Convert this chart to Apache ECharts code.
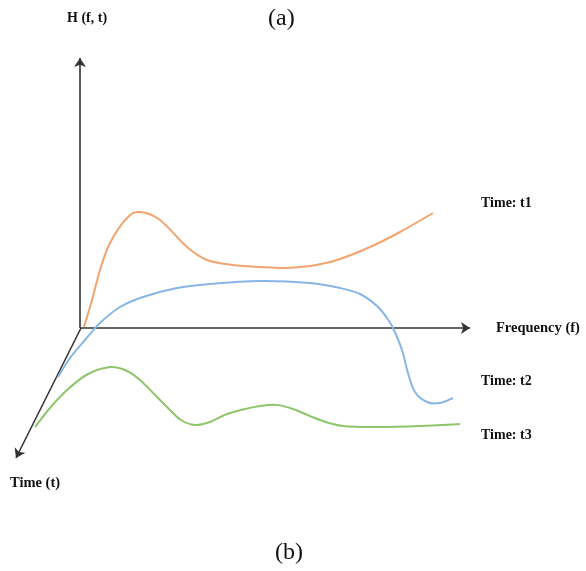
<!DOCTYPE html>
<html>
<head>
<meta charset="utf-8">
<script src="https://cdn.jsdelivr.net/npm/echarts@6/dist/echarts.min.js"></script>
<style>
  html, body { margin: 0; padding: 0; background: #fff; }
  #chart { width: 586px; height: 571px; }
</style>
</head>
<body>
<div id="chart"></div>
<script>
// Curves as [f, H] points (picture units, H grows downward)
const curveT1 = [[84,327],[92,300],[100,270],[110,243],[127,218],[140,212],[160,220],[187,247],[207,260],[233,265],[260,267],[285,268],[310,266],[337,260],[370,247],[400,232],[433,213]];
const curveT2 = [[58,377],[70,358],[85,340],[100,323],[120,307],[143,297],[177,288],[210,284],[260,281],[310,283],[340,288],[360,294],[377,306],[387,318],[393,328],[402,350],[408,373],[415,392],[427,402],[440,403],[453,398]];
const curveT3 = [[35,427],[50,408],[67,390],[88,374],[110,367],[125,370],[140,380],[167,407],[181,420],[195,425],[210,422],[230,413],[268,405],[290,408],[320,420],[343,426],[380,427],[420,426],[460,424]];

// Axis arrows: H, Frequency, Time
const axisLines = [
    [[80,328],[80,58]],
    [[80,328],[470,328]],
    [[81,328],[16,458]]
];

const labels = [
    { text: 'H (f, t)', x: 67, y: 18, size: 14, bold: true },
    { text: '(a)', x: 268, y: 19, size: 24, bold: false },
    { text: 'Time: t1', x: 481, y: 203, size: 14, bold: true },
    { text: 'Frequency (f)', x: 496, y: 328, size: 14.5, bold: true },
    { text: 'Time: t2', x: 481, y: 381, size: 14, bold: true },
    { text: 'Time: t3', x: 481, y: 435, size: 14, bold: true },
    { text: 'Time (t)', x: 10, y: 483, size: 14.5, bold: true },
    { text: '(b)', x: 275, y: 553, size: 24, bold: false }
];

const chart = echarts.init(document.getElementById('chart'));

// smooth curve through the points (Catmull-Rom as cubic beziers)
function curve(data, color) {
    return {
        type: 'custom',
        data: data,
        silent: true,
        clip: false,
        renderItem: function (params, api) {
            if (params.dataIndex !== 0) return null;
            let p = data.map(d => api.coord(d));
            let d = 'M' + p[0][0] + ' ' + p[0][1];
            for (let i = 0; i < p.length - 1; i++) {
                let p0 = p[i - 1] || p[i], p1 = p[i], p2 = p[i + 1], p3 = p[i + 2] || p[i + 1];
                let c1 = [p1[0] + (p2[0] - p0[0]) / 6, p1[1] + (p2[1] - p0[1]) / 6];
                let c2 = [p2[0] - (p3[0] - p1[0]) / 6, p2[1] - (p3[1] - p1[1]) / 6];
                d += ' C' + c1[0] + ' ' + c1[1] + ' ' + c2[0] + ' ' + c2[1] + ' ' + p2[0] + ' ' + p2[1];
            }
            return {
                type: 'path',
                shape: { pathData: d },
                style: { fill: null, stroke: color, lineWidth: 2 }
            };
        }
    };
}

const option = {
    animation: false,
    grid: { left: 0, right: 0, top: 0, bottom: 0 },
    xAxis: { type: 'value', min: 0, max: 586, show: false },
    yAxis: { type: 'value', min: 0, max: 571, inverse: true, show: false },
    series: [
        {
            type: 'lines',
            coordinateSystem: 'cartesian2d',
            data: axisLines.map(c => ({ coords: c })),
            symbol: ['none', 'arrow'],
            symbolSize: 9,
            silent: true,
            lineStyle: { color: '#333', width: 1.6, opacity: 1 }
        },
        curve(curveT1, '#F2A46F'),
        curve(curveT2, '#87B6E6'),
        curve(curveT3, '#8DC66B')
    ],
    graphic: labels.map(l => ({
        type: 'text',
        x: l.x,
        y: l.y,
        style: {
            text: l.text,
            fill: '#111',
            font: (l.bold ? 'bold ' : '') + l.size + 'px "Liberation Serif"',
            verticalAlign: 'middle'
        }
    }))
};

chart.setOption(option);
</script>
</body>
</html>
